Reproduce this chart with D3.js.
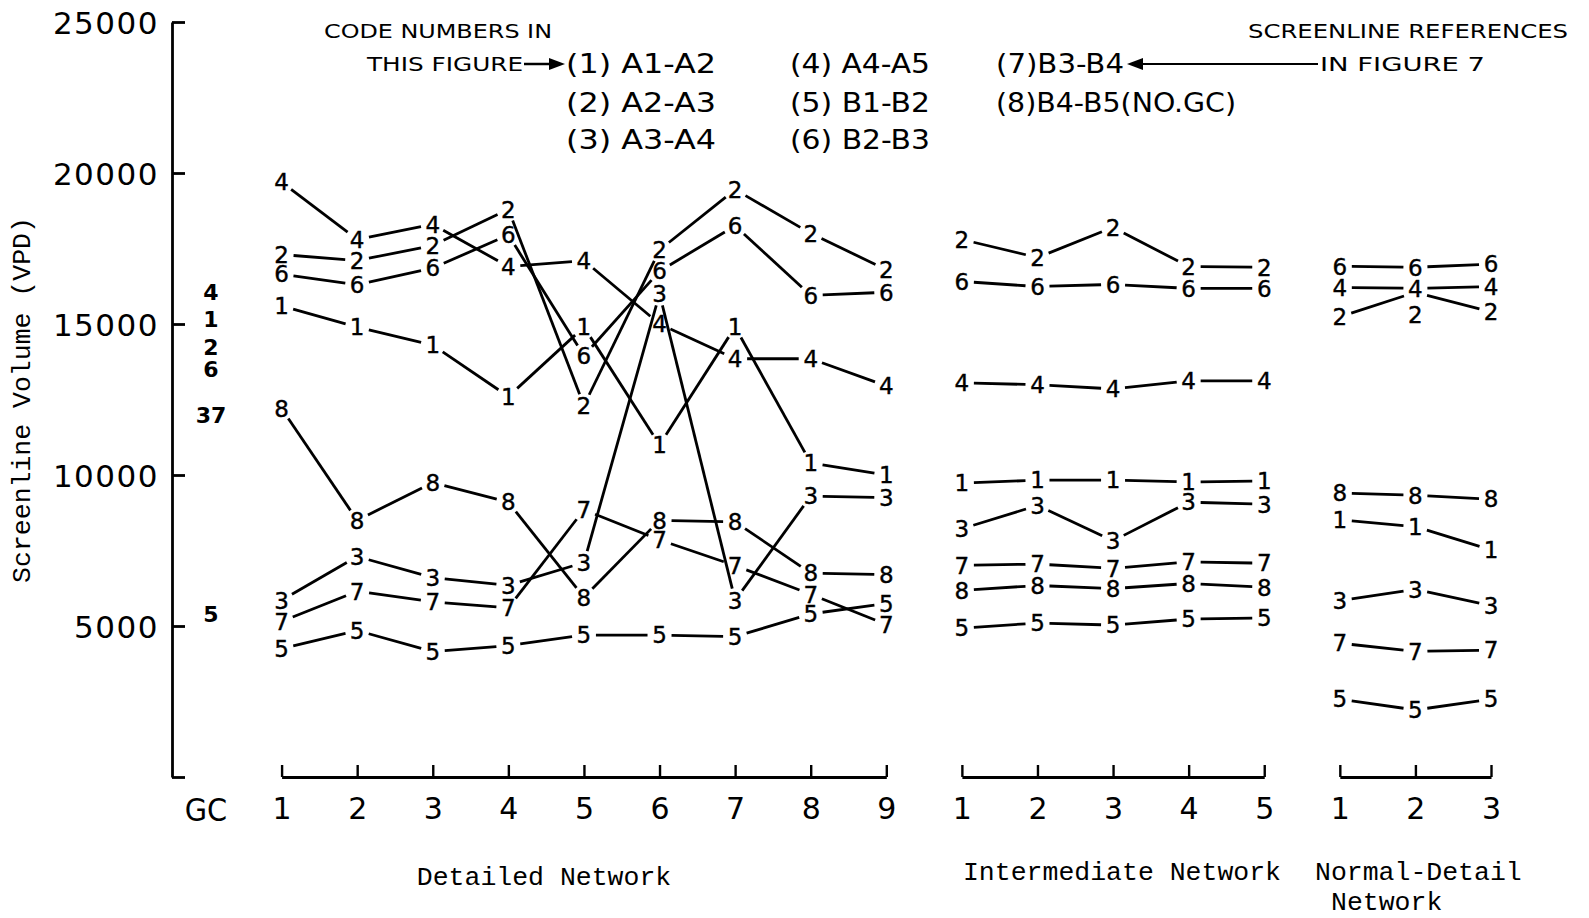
<!DOCTYPE html>
<html><head><meta charset="utf-8">
<script src="https://cdn.jsdelivr.net/npm/d3@7/dist/d3.min.js"></script>
<style>body{margin:0;background:#fff}svg{display:block}</style>
</head><body>
<svg id="chart" width="1589" height="918"></svg>
<script>
// ---------- data ----------
const codes = ["1","2","3","4","5","6","7","8"];
const legendLabels = ["(1) A1-A2","(2) A2-A3","(3) A3-A4","(4) A4-A5","(5) B1-B2","(6) B2-B3","(7)B3-B4","(8)B4-B5(NO.GC)"];
const yTicks = [0, 5000, 10000, 15000, 20000, 25000];
const yTickLabels = ["", "5000", "10000", "15000", "20000", "25000"];
const gcLabel = "GC";
const detailedTicks = ["1","2","3","4","5","6","7","8","9"];
const intermediateTicks = ["1","2","3","4","5"];
const normalTicks = ["1","2","3"];
const networkTitles = [["Detailed Network"], ["Intermediate Network"], ["Normal-Detail", "Network"]];
const yTitle = "Screenline Volume (VPD)";

// GC values per code (code 8 has no GC)
const gcValues = [15150, 14250, 12000, 16050, 5400, 13500, 12000, null];

// rows follow the order of `codes`
const detailedValues = [
  [15600, 14900, 14300, 12600, 14900, 11000, 14900, 10400, 10000], // 1
  [17300, 17100, 17600, 18800, 12300, 17450, 19450, 18000, 16800], // 2
  [5850, 7300, 6600, 6350, 7100, 16000, 5850, 9300, 9250],         // 3
  [19700, 17800, 18300, 16900, 17100, 15000, 13850, 13850, 12950], // 4
  [4250, 4850, 4150, 4350, 4700, 4700, 4650, 5400, 5750],          // 5
  [16650, 16300, 16850, 17950, 13950, 16750, 18250, 15950, 16050], // 6
  [5150, 6150, 5800, 5600, 8850, 7850, 7000, 6050, 5050],          // 7
  [12200, 8500, 9750, 9100, 5950, 8500, 8450, 6750, 6700]          // 8
];
const intermediateValues = [
  [9730, 9830, 9830, 9770, 9800],
  [17800, 17200, 18200, 16900, 16880],
  [8220, 8990, 7820, 9100, 9030],
  [13050, 12990, 12850, 13120, 13120],
  [4930, 5100, 5030, 5230, 5270],
  [16410, 16240, 16310, 16180, 16180],
  [7010, 7050, 6910, 7120, 7080],
  [6180, 6340, 6240, 6410, 6280]
];
const normalValues = [
  [8520, 8290, 7520],
  [15240, 16050, 15400],
  [5840, 6210, 5670],
  [16210, 16180, 16240],
  [2580, 2220, 2580],
  [16910, 16880, 16980],
  [4430, 4160, 4200],
  [9400, 9330, 9200]
];

// ---------- layout ----------
const svg = d3.select("#chart");
const DIGIT_FONT = "'DejaVu Sans', sans-serif";
const NARROW_FONT = "'Liberation Sans Narrow', 'DejaVu Sans Condensed', sans-serif";
const MONO_FONT = "'Liberation Mono', 'DejaVu Sans Mono', monospace";

const networks = [
  {prefix: "D", ticks: detailedTicks, values: detailedValues},
  {prefix: "I", ticks: intermediateTicks, values: intermediateValues},
  {prefix: "N", ticks: normalTicks, values: normalValues}
];
const xKeys = [gcLabel].concat(...networks.map(n => n.ticks.map(t => n.prefix + t)));

const x = d3.scalePoint().domain(xKeys).range([206, 1491]);
const y = d3.scaleLinear().domain([0, 25000]).range([777, 22]);
const axisX = 172;

// y axis
const yAxis = d3.axisLeft(y).tickValues(yTicks)
  .tickSizeInner(-13).tickSizeOuter(0).tickPadding(13)
  .tickFormat((d, i) => yTickLabels[i]);
const gy = svg.append("g").attr("transform", `translate(${axisX},0)`).call(yAxis);
gy.select(".domain").attr("stroke", "#000").attr("stroke-width", 2.8);
gy.selectAll(".tick line").attr("stroke", "#000").attr("stroke-width", 2.8);
gy.selectAll(".tick text").attr("font-family", DIGIT_FONT).attr("font-size", 31)
  .attr("letter-spacing", 1.5).attr("fill", "#000").attr("dy", "0.36em");

// y title
svg.append("text")
  .attr("transform", `translate(30,400) rotate(-90)`)
  .attr("text-anchor", "middle")
  .attr("font-family", MONO_FONT).attr("font-size", 26.5).attr("fill", "#000")
  .text(yTitle);

// x axes (one per network)
networks.forEach((n, ni) => {
  const keys = n.ticks.map(t => n.prefix + t);
  const sub = d3.scalePoint().domain(keys).range([x(keys[0]), x(keys[keys.length - 1])]);
  const ax = d3.axisBottom(sub).tickSizeInner(-12).tickSizeOuter(0).tickPadding(21)
    .tickFormat((d, i) => n.ticks[i]);
  const g = svg.append("g").attr("transform", `translate(0,${y(0)})`).call(ax);
  g.select(".domain").attr("stroke", "#000").attr("stroke-width", 2.8);
  g.selectAll(".tick line").attr("stroke", "#000").attr("stroke-width", 2.4);
  g.selectAll(".tick text").attr("font-family", DIGIT_FONT).attr("font-size", 30).attr("fill", "#000");
});
svg.append("text").attr("x", x(gcLabel)).attr("y", y(0) + 21).attr("dy", "0.71em")
  .attr("text-anchor", "middle").attr("font-family", NARROW_FONT).attr("font-size", 32)
  .attr("fill", "#000").text(gcLabel);

// network titles
const titlePos = [
  {x: 544, y: 885, anchor: "middle"},
  {x: 1122, y: 880, anchor: "middle"},
  {x: 1315, y: 880, anchor: "start", dx2: 16}
];
networkTitles.forEach((lines, i) => {
  lines.forEach((ln, j) => {
    svg.append("text")
      .attr("x", titlePos[i].x + (j > 0 ? titlePos[i].dx2 : 0))
      .attr("y", titlePos[i].y + j * 30)
      .attr("text-anchor", titlePos[i].anchor)
      .attr("font-family", MONO_FONT).attr("font-size", 26.5).attr("fill", "#000")
      .text(ln);
  });
});

// ---------- series ----------
const GAP = 12;
const plot = svg.append("g");
// label nudges for overlapping labels (rendering only)
const labelNudge = {"2@N2": 22};

codes.forEach((code, ci) => {
  networks.forEach(n => {
    const pts = n.values[ci].map((v, i) => ({key: n.prefix + n.ticks[i], px: x(n.prefix + n.ticks[i]), py: y(v)}));
    for (let i = 0; i < pts.length - 1; i++) {
      const a = pts[i], b = pts[i + 1];
      const dx = b.px - a.px, dy = b.py - a.py, L = Math.hypot(dx, dy);
      const ux = dx / L, uy = dy / L;
      plot.append("line")
        .attr("x1", a.px + ux * GAP).attr("y1", a.py + uy * GAP)
        .attr("x2", b.px - ux * GAP).attr("y2", b.py - uy * GAP)
        .attr("stroke", "#000").attr("stroke-width", 2.8).attr("stroke-linecap", "butt");
    }
    pts.forEach(p => {
      const nudge = labelNudge[code + "@" + p.key] || 0;
      plot.append("text").attr("x", p.px).attr("y", p.py + nudge).attr("dy", "0.36em")
        .attr("text-anchor", "middle").attr("font-family", DIGIT_FONT).attr("font-size", 23)
        .attr("stroke", "#000").attr("stroke-width", 0.4)
        .attr("fill", "#000").text(code);
    });
  });
});

// GC column: codes sharing the same value are written together
const gcGroups = d3.rollups(
  codes.map((c, i) => ({c, v: gcValues[i]})).filter(d => d.v != null),
  g => g.map(d => d.c).join(""), d => d.v);
gcGroups.forEach(([v, label]) => {
  plot.append("text").attr("x", x(gcLabel) + 5).attr("y", y(v)).attr("dy", "0.36em")
    .attr("text-anchor", "middle").attr("font-family", DIGIT_FONT).attr("font-size", 22)
    .attr("font-weight", "bold").attr("fill", "#000").text(label);
});

// ---------- legend ----------
const leg = svg.append("g").attr("fill", "#000");
function ltext(str, x0, yc, size, len, font) {
  leg.append("text").attr("x", x0).attr("y", yc).attr("dy", "0.36em")
    .attr("font-family", font || NARROW_FONT).attr("font-size", size)
    .attr("textLength", len).attr("lengthAdjust", "spacingAndGlyphs").text(str);
}
ltext("CODE  NUMBERS  IN", 324, 31, 20, 228);
ltext("THIS  FIGURE", 367, 64, 20, 156);
ltext("SCREENLINE  REFERENCES", 1248, 31, 20, 320);
ltext("IN   FIGURE  7", 1320, 64, 20, 165);
// arrows
leg.append("line").attr("x1", 524).attr("y1", 64).attr("x2", 552).attr("y2", 64).attr("stroke", "#000").attr("stroke-width", 2.5);
leg.append("path").attr("d", "M565,64 L549,58 L549,70 Z");
leg.append("line").attr("x1", 1140).attr("y1", 64).attr("x2", 1318).attr("y2", 64).attr("stroke", "#000").attr("stroke-width", 2);
leg.append("path").attr("d", "M1127,64 L1143,58 L1143,70 Z");

const colX = [566, 790, 996];
const rowY = [64, 103, 140];
const legLen = [150, 150, 150, 140, 140, 140, 128, 240];
legendLabels.forEach((lab, i) => {
  const col = Math.floor(i / 3), row = i % 3;
  ltext(lab, colX[col], rowY[row], 26, legLen[i]);
});
</script>
</body></html>
